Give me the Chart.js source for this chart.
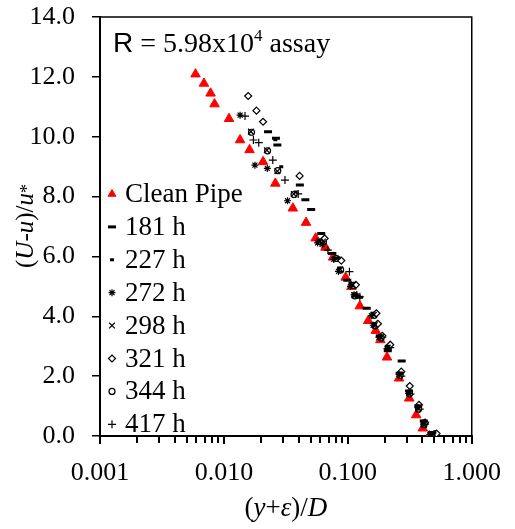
<!DOCTYPE html>
<html>
<head>
<meta charset="utf-8">
<script src="https://cdn.jsdelivr.net/npm/chart.js@4.4.1/dist/chart.umd.min.js"></script>
<style>
  html, body { margin: 0; padding: 0; background: #fff; }
  #wrap { width: 515px; height: 529px; }
</style>
</head>
<body>
<div id="wrap"><canvas id="profileChart" width="515" height="529"></canvas></div>
<script>
// Velocity defect profiles
const cleanX = [0.0059, 0.0069, 0.0078, 0.0084, 0.0110, 0.0135, 0.0161, 0.0207, 0.026, 0.036, 0.046, 0.055, 0.066, 0.076, 0.096, 0.107, 0.125, 0.146, 0.168, 0.183, 0.207, 0.259, 0.313, 0.356, 0.403, 0.455];
const cleanY = [12.09, 11.78, 11.45, 11.09, 10.60, 9.89, 9.56, 9.16, 8.44, 7.61, 7.13, 6.61, 6.30, 5.97, 5.30, 4.99, 4.34, 3.85, 3.52, 3.21, 2.63, 1.93, 1.26, 0.70, 0.26, 0.0];

const h181X = [0.0227, 0.0263, 0.027, 0.041, 0.0454, 0.0506, 0.061, 0.075, 0.081, 0.099, 0.123, 0.142, 0.181, 0.21, 0.272, 0.262, 0.312, 0.37, 0.41, 0.48];
const h181Y = [10.17, 9.95, 9.72, 8.39, 7.89, 7.57, 6.77, 6.1, 5.95, 5.2, 4.64, 4.27, 3.34, 2.85, 2.51, 2.1, 1.5, 1.0, 0.5, 0.1];

const h227X = [0.026, 0.029, 0.038, 0.058, 0.072, 0.085, 0.105, 0.118, 0.158, 0.165, 0.182, 0.212, 0.265, 0.315, 0.372, 0.41, 0.46];
const h227Y = [9.9, 9.0, 8.15, 6.55, 6.1, 5.6, 5.1, 4.72, 4.1, 3.75, 3.35, 3.0, 2.1, 1.5, 1.0, 0.5, 0.12];

const h272X = [0.0135, 0.0178, 0.0224, 0.0326, 0.057, 0.062, 0.077, 0.084, 0.105, 0.112, 0.155, 0.16, 0.178, 0.207, 0.26, 0.31, 0.368, 0.41, 0.46];
const h272Y = [10.72, 9.05, 8.94, 7.86, 6.45, 6.4, 5.9, 5.5, 5.0, 4.72, 4.02, 3.7, 3.3, 2.92, 2.05, 1.42, 0.95, 0.4, 0.05];

const h298X = [0.0165, 0.0222, 0.027, 0.0366, 0.063, 0.08, 0.087, 0.11, 0.113, 0.162, 0.165, 0.185, 0.21, 0.262, 0.313, 0.37, 0.41, 0.49];
const h298Y = [10.17, 9.55, 8.85, 8.09, 6.5, 5.92, 5.57, 5.05, 4.7, 4.05, 3.7, 3.3, 2.95, 2.05, 1.43, 0.92, 0.38, 0.05];

const h321X = [0.0157, 0.0183, 0.0207, 0.0408, 0.065, 0.0885, 0.116, 0.17, 0.175, 0.19, 0.22, 0.27, 0.316, 0.375, 0.42, 0.52];
const h321Y = [11.36, 10.87, 10.5, 8.69, 6.6, 5.86, 5.05, 4.1, 3.75, 3.35, 3.05, 2.15, 1.67, 1.04, 0.45, 0.08];

const h344X = [0.0167, 0.0225, 0.0272, 0.0368, 0.0635, 0.081, 0.0875, 0.111, 0.114, 0.163, 0.166, 0.186, 0.212, 0.264, 0.315, 0.372, 0.412, 0.505];
const h344Y = [10.15, 9.53, 8.87, 8.07, 6.48, 5.93, 5.55, 5.03, 4.68, 4.03, 3.68, 3.28, 2.93, 2.03, 1.41, 0.9, 0.38, 0.07];

const h417X = [0.0148, 0.0173, 0.0191, 0.0248, 0.0311, 0.0398, 0.069, 0.103, 0.118, 0.125, 0.17, 0.19, 0.22, 0.27, 0.32, 0.38, 0.42, 0.5];
const h417Y = [10.69, 9.89, 9.8, 9.22, 8.55, 8.09, 6.21, 5.49, 4.71, 4.65, 3.72, 3.3, 2.95, 2.0, 1.4, 0.9, 0.4, 0.05];

const seriesLabels = ['Clean Pipe', '181 h', '227 h', '272 h', '298 h', '321 h', '344 h', '417 h'];
const yTicks = [0, 2, 4, 6, 8, 10, 12, 14];
const xMajorTicks = [0.001, 0.01, 0.1, 1];
const minorSteps = [2, 3, 4, 5, 6, 7, 8, 9];

const serif = 'Liberation Serif, "Times New Roman", serif';

function toPoints(xs, ys) {
  return xs.map((x, i) => ({ x: x, y: ys[i] }));
}

// marker look for each series
const markers = [
  { pointStyle: 'triangle', radius: 5.5, borderWidth: 1, bg: '#ff0000', border: '#ff0000' },
  { pointStyle: 'line', radius: 4, borderWidth: 3, bg: '#000', border: '#000' },
  { pointStyle: 'line', radius: 2, borderWidth: 3, bg: '#000', border: '#000' },
  { pointStyle: 'star', radius: 3.5, borderWidth: 1.2, bg: '#000', border: '#000' },
  { pointStyle: 'crossRot', radius: 4, borderWidth: 1.2, bg: '#000', border: '#000' },
  { pointStyle: 'rectRot', radius: 3.5, borderWidth: 1.2, bg: '#fff', border: '#000' },
  { pointStyle: 'circle', radius: 3, borderWidth: 1.2, bg: '#fff', border: '#000' },
  { pointStyle: 'cross', radius: 4, borderWidth: 1.2, bg: '#000', border: '#000' }
];

const allData = [
  toPoints(cleanX, cleanY), toPoints(h181X, h181Y), toPoints(h227X, h227Y), toPoints(h272X, h272Y),
  toPoints(h298X, h298Y), toPoints(h321X, h321Y), toPoints(h344X, h344Y), toPoints(h417X, h417Y)
];

const datasets = allData.map((pts, i) => ({
  label: seriesLabels[i],
  data: pts,
  pointStyle: markers[i].pointStyle,
  pointRadius: markers[i].radius,
  pointBorderWidth: markers[i].borderWidth,
  pointBackgroundColor: markers[i].bg,
  pointBorderColor: markers[i].border,
  showLine: false,
  order: i === 0 ? 10 : 0   // clean pipe drawn underneath
}));

// draw a list of text runs with their own fonts
function drawRuns(ctx, runs, x, y, align) {
  let total = 0;
  runs.forEach(r => { ctx.font = r.font; total += ctx.measureText(r.t).width; });
  let cx = align === 'center' ? x - total / 2 : x;
  runs.forEach(r => {
    ctx.font = r.font;
    ctx.fillText(r.t, cx, y + (r.dy || 0));
    cx += ctx.measureText(r.t).width;
  });
}

function drawMarker(ctx, m, x, y) {
  ctx.save();
  ctx.fillStyle = m.bg;
  ctx.strokeStyle = m.border;
  ctx.lineWidth = m.borderWidth;
  if (Chart.helpers && Chart.helpers.drawPoint) {
    Chart.helpers.drawPoint(ctx, { pointStyle: m.pointStyle, radius: m.radius, borderWidth: m.borderWidth, rotation: 0 }, x, y);
  }
  ctx.restore();
}

const decorations = {
  id: 'decorations',
  afterDraw(chart) {
    const ctx = chart.ctx;
    const a = chart.chartArea;
    const xs = chart.scales.x;
    ctx.save();

    // top and right frame lines
    ctx.strokeStyle = '#000';
    ctx.lineWidth = 1.5;
    ctx.beginPath();
    ctx.moveTo(a.left, a.top);
    ctx.lineTo(a.right, a.top);
    ctx.lineTo(a.right, a.bottom);
    ctx.stroke();

    // minor tick marks of the log axis, placed by the x scale
    ctx.fillStyle = '#000';
    xMajorTicks.slice(0, -1).forEach(m => {
      minorSteps.forEach(n => {
        const px = xs.getPixelForValue(m * n);
        ctx.fillRect(Math.round(px) - 1, a.bottom, 2, 7);
      });
    });

    ctx.textBaseline = 'alphabetic';
    ctx.textAlign = 'left';

    // label in the top corner
    drawRuns(ctx, [
      { t: 'R', font: '28px Liberation Sans, Arial, sans-serif' },
      { t: ' = 5.98x10', font: '28px ' + serif },
      { t: '4', font: '17px ' + serif, dy: -11 },
      { t: ' assay', font: '28px ' + serif }
    ], a.left + 13, 52, 'left');

    // legend inside the plot
    ctx.textBaseline = 'middle';
    seriesLabels.forEach((lab, i) => {
      const yy = 194 + i * 32.9;
      const m = Object.assign({}, markers[i]);
      if (i === 0) m.radius = 4.5;
      drawMarker(ctx, m, a.left + 12, yy);
      ctx.fillStyle = '#000';
      ctx.font = '27px ' + serif;
      ctx.fillText(lab, a.left + 25, yy + 1);
    });

    // x axis title
    ctx.textBaseline = 'alphabetic';
    drawRuns(ctx, [
      { t: '(', font: '27px ' + serif },
      { t: 'y', font: 'italic 27px ' + serif },
      { t: '+', font: '27px ' + serif },
      { t: 'ε', font: 'italic 27px ' + serif },
      { t: ')/', font: '27px ' + serif },
      { t: 'D', font: 'italic 27px ' + serif }
    ], (a.left + a.right) / 2, 516, 'center');

    // y axis title
    ctx.translate(33, 226);
    ctx.rotate(-Math.PI / 2);
    drawRuns(ctx, [
      { t: '(', font: '25px ' + serif },
      { t: 'U', font: 'italic 25px ' + serif },
      { t: '-', font: '25px ' + serif },
      { t: 'u', font: 'italic 25px ' + serif },
      { t: ')/', font: '25px ' + serif },
      { t: 'u', font: 'italic 25px ' + serif },
      { t: '*', font: '18px ' + serif, dy: 0 }
    ], 0, 0, 'center');

    ctx.restore();
  }
};

const ctx = document.getElementById('profileChart').getContext('2d');
new Chart(ctx, {
  type: 'scatter',
  data: { datasets: datasets },
  options: {
    responsive: false,
    animation: false,
    layout: { padding: { top: 17, right: 35, left: 0, bottom: 0 } },
    plugins: {
      legend: { display: false },
      tooltip: { enabled: false }
    },
    scales: {
      x: {
        type: 'logarithmic',
        min: 0.001,
        max: 1,
        border: { color: '#000', width: 2 },
        grid: { drawOnChartArea: false, color: '#000', lineWidth: 2, tickLength: 8 },
        afterBuildTicks: s => { s.ticks = xMajorTicks.map(v => ({ value: v })); },
        ticks: {
          autoSkip: false,
          maxRotation: 0,
          color: '#000',
          padding: 14,
          font: { family: serif, size: 26 },
          callback: v => Number(v).toFixed(3)
        },
        afterFit: s => { s.height = 93; }
      },
      y: {
        min: 0,
        max: 14,
        border: { color: '#000', width: 2 },
        grid: { drawOnChartArea: false, color: '#000', lineWidth: 1.5, tickLength: 8 },
        afterBuildTicks: s => { s.ticks = yTicks.map(v => ({ value: v })); },
        ticks: {
          color: '#000',
          padding: 17,
          font: { family: serif, size: 26 },
          callback: v => Number(v).toFixed(1)
        },
        afterFit: s => { s.width = 100; s.paddingTop = 0; s.paddingBottom = 0; }
      }
    }
  },
  plugins: [decorations]
});
</script>
</body>
</html>
